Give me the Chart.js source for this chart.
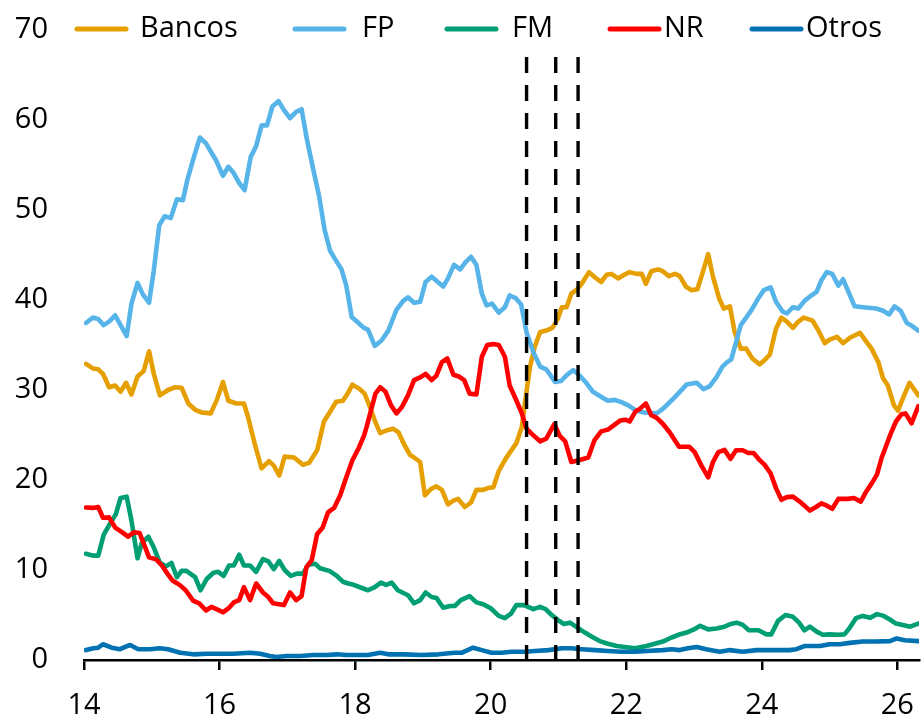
<!DOCTYPE html>
<html>
<head>
<meta charset="utf-8">
<script src="https://cdn.jsdelivr.net/npm/chart.js@4.4.1/dist/chart.umd.min.js"></script>
<style>
html, body { margin: 0; padding: 0; background: #fff; }
canvas { display: block; }
</style>
</head>
<body>
<canvas id="chart" width="924" height="719"></canvas>
<script>
// series names / colours, legend order
const seriesNames = ["Bancos", "FP", "FM", "NR", "Otros"];
const seriesColors = ["#E69F00", "#56B4E9", "#009E73", "#FF0000", "#0072B2"];

// [year, %]
const bancos = [[14.03,32.9],[14.13,32.4],[14.21,32.3],[14.28,31.8],[14.37,30.3],[14.46,30.5],[14.54,29.8],[14.62,30.8],[14.70,29.5],[14.79,31.5],[14.88,32.1],[14.96,34.3],[15.03,31.8],[15.12,29.4],[15.24,30.0],[15.34,30.3],[15.44,30.25],[15.54,28.5],[15.64,27.8],[15.74,27.5],[15.87,27.4],[15.96,28.9],[16.05,30.9],[16.13,28.8],[16.25,28.5],[16.36,28.5],[16.42,27.0],[16.52,24.0],[16.62,21.3],[16.73,22.1],[16.80,21.6],[16.88,20.5],[16.96,22.6],[17.10,22.5],[17.23,21.7],[17.32,21.9],[17.44,23.3],[17.54,26.5],[17.64,27.7],[17.72,28.7],[17.82,28.8],[17.89,29.6],[17.96,30.6],[18.07,30.1],[18.14,29.6],[18.22,28.1],[18.29,26.6],[18.37,25.2],[18.46,25.5],[18.56,25.7],[18.64,25.3],[18.72,24.0],[18.81,22.8],[18.87,22.5],[18.96,22.0],[19.03,18.3],[19.12,19.0],[19.20,19.3],[19.28,18.9],[19.37,17.3],[19.45,17.7],[19.52,17.9],[19.62,17.0],[19.71,17.5],[19.79,18.9],[19.89,18.9],[19.96,19.1],[20.04,19.2],[20.12,21.0],[20.22,22.35],[20.31,23.35],[20.38,24.1],[20.46,25.9],[20.51,28.8],[20.58,32.55],[20.65,34.8],[20.73,36.45],[20.82,36.6],[20.91,36.9],[20.99,37.9],[21.05,39.2],[21.12,39.2],[21.19,40.7],[21.28,41.2],[21.36,42.0],[21.45,43.1],[21.54,42.5],[21.63,42.0],[21.71,42.8],[21.78,42.9],[21.88,42.4],[21.97,42.8],[22.05,43.1],[22.15,42.9],[22.23,42.9],[22.29,41.8],[22.37,43.2],[22.47,43.4],[22.54,43.2],[22.63,42.65],[22.72,42.9],[22.79,42.65],[22.88,41.5],[22.96,41.1],[23.05,41.2],[23.13,43.1],[23.21,45.1],[23.28,42.6],[23.37,40.2],[23.44,39.05],[23.53,39.3],[23.60,36.45],[23.69,34.6],[23.77,34.6],[23.86,33.5],[23.97,32.85],[24.04,33.3],[24.12,33.95],[24.21,36.8],[24.29,38.05],[24.37,37.6],[24.46,36.9],[24.54,37.6],[24.62,38.05],[24.75,37.7],[24.83,36.7],[24.93,35.2],[25.00,35.6],[25.11,35.9],[25.20,35.2],[25.30,35.8],[25.45,36.35],[25.53,35.5],[25.62,34.6],[25.72,33.1],[25.79,31.3],[25.86,30.5],[25.95,28.3],[26.01,27.7],[26.09,29.2],[26.18,30.8],[26.31,29.4]];

const fp = [[14.03,37.45],[14.13,38.05],[14.21,37.9],[14.29,37.2],[14.37,37.6],[14.46,38.3],[14.54,37.2],[14.63,36.0],[14.70,39.6],[14.79,41.9],[14.87,40.6],[14.96,39.7],[15.03,43.3],[15.11,48.3],[15.19,49.3],[15.28,49.1],[15.37,51.2],[15.46,51.1],[15.52,53.2],[15.61,55.6],[15.71,58.05],[15.80,57.4],[15.87,56.5],[15.95,55.5],[16.05,53.8],[16.13,54.8],[16.20,54.2],[16.29,53.0],[16.37,52.2],[16.46,55.9],[16.54,57.1],[16.62,59.4],[16.70,59.4],[16.78,61.5],[16.87,62.1],[16.95,61.1],[17.04,60.2],[17.13,60.9],[17.21,61.2],[17.29,57.8],[17.38,54.6],[17.47,51.5],[17.55,47.8],[17.63,45.5],[17.70,44.6],[17.80,43.4],[17.87,41.6],[17.95,38.1],[18.05,37.45],[18.13,36.9],[18.19,36.7],[18.29,34.9],[18.39,35.5],[18.49,36.6],[18.61,38.9],[18.71,39.9],[18.78,40.3],[18.87,39.7],[18.96,39.8],[19.04,42.0],[19.13,42.6],[19.22,42.0],[19.30,41.5],[19.37,42.4],[19.46,43.9],[19.55,43.4],[19.63,44.2],[19.71,44.8],[19.79,43.9],[19.87,40.7],[19.94,39.4],[20.02,39.6],[20.12,38.6],[20.21,39.2],[20.28,40.5],[20.37,40.2],[20.45,39.5],[20.53,36.4],[20.63,34.2],[20.73,32.6],[20.82,32.3],[20.95,30.9],[21.04,31.0],[21.13,31.7],[21.22,32.2],[21.30,31.7],[21.41,30.8],[21.51,29.8],[21.64,29.2],[21.73,28.8],[21.83,28.9],[21.93,28.65],[22.03,28.3],[22.15,27.7],[22.27,27.5],[22.45,27.4],[22.54,27.9],[22.69,29.0],[22.79,29.8],[22.89,30.6],[23.04,30.8],[23.14,30.1],[23.23,30.4],[23.33,31.4],[23.42,32.6],[23.49,33.1],[23.55,33.4],[23.62,35.3],[23.69,37.2],[23.77,38.05],[23.85,38.9],[23.95,40.2],[24.03,41.1],[24.13,41.4],[24.21,39.8],[24.31,38.7],[24.37,38.5],[24.46,39.2],[24.54,39.05],[24.63,39.9],[24.73,40.5],[24.81,40.9],[24.88,42.2],[24.96,43.1],[25.04,42.9],[25.13,41.6],[25.20,42.3],[25.29,40.7],[25.37,39.3],[25.49,39.2],[25.69,39.05],[25.79,38.8],[25.88,38.4],[25.96,39.3],[26.05,38.8],[26.14,37.45],[26.22,37.1],[26.31,36.6]];

const fm = [[14.03,11.8],[14.13,11.6],[14.21,11.6],[14.29,13.9],[14.38,15.1],[14.47,16.2],[14.54,18.0],[14.63,18.15],[14.70,15.5],[14.79,11.3],[14.85,12.95],[14.95,13.7],[15.03,12.5],[15.12,10.8],[15.21,10.4],[15.29,10.8],[15.37,9.2],[15.44,9.9],[15.51,9.9],[15.64,9.2],[15.72,7.75],[15.81,9.0],[15.91,9.7],[15.98,9.8],[16.06,9.35],[16.14,10.5],[16.21,10.5],[16.29,11.7],[16.36,10.5],[16.45,10.5],[16.54,9.8],[16.64,11.2],[16.72,10.95],[16.80,10.1],[16.88,11.0],[16.96,10.0],[17.05,9.35],[17.14,9.6],[17.23,9.6],[17.31,10.6],[17.41,10.7],[17.48,10.2],[17.62,9.9],[17.73,9.35],[17.82,8.7],[17.90,8.5],[17.98,8.35],[18.10,8.0],[18.19,7.75],[18.29,8.1],[18.38,8.6],[18.46,8.35],[18.54,8.6],[18.63,7.75],[18.78,7.2],[18.87,6.3],[18.96,6.65],[19.04,7.5],[19.13,7.0],[19.20,6.9],[19.30,5.8],[19.40,6.0],[19.47,6.0],[19.56,6.65],[19.69,7.1],[19.79,6.4],[19.89,6.2],[20.00,5.75],[20.12,4.9],[20.21,4.65],[20.30,5.15],[20.38,6.1],[20.49,6.1],[20.63,5.65],[20.73,5.9],[20.81,5.65],[20.90,5.0],[21.00,4.4],[21.08,4.0],[21.17,4.15],[21.28,3.6],[21.39,3.05],[21.50,2.55],[21.61,2.1],[21.73,1.8],[21.86,1.55],[21.98,1.45],[22.13,1.3],[22.30,1.55],[22.42,1.8],[22.54,2.05],[22.67,2.5],[22.77,2.8],[22.89,3.05],[23.00,3.4],[23.09,3.8],[23.21,3.4],[23.33,3.5],[23.45,3.7],[23.54,4.0],[23.63,4.15],[23.72,3.9],[23.81,3.3],[23.95,3.3],[24.07,2.85],[24.14,2.85],[24.24,4.35],[24.35,5.0],[24.46,4.8],[24.55,4.15],[24.63,3.3],[24.71,3.7],[24.81,3.15],[24.90,2.8],[25.00,2.85],[25.13,2.8],[25.22,2.85],[25.30,3.6],[25.39,4.65],[25.49,4.9],[25.60,4.7],[25.70,5.1],[25.80,4.9],[25.89,4.5],[25.98,4.05],[26.08,3.9],[26.19,3.7],[26.31,4.05]];

const nr = [[14.03,16.95],[14.13,16.9],[14.21,17.0],[14.28,15.8],[14.37,15.85],[14.46,14.7],[14.56,14.2],[14.65,13.7],[14.74,14.2],[14.82,14.1],[14.88,12.95],[14.96,11.4],[15.06,11.2],[15.15,10.5],[15.23,9.6],[15.31,8.8],[15.41,8.35],[15.50,7.75],[15.61,6.6],[15.70,6.3],[15.80,5.5],[15.88,5.9],[15.97,5.6],[16.05,5.3],[16.14,5.8],[16.21,6.4],[16.29,6.65],[16.36,8.1],[16.45,6.65],[16.54,8.5],[16.64,7.5],[16.72,7.0],[16.79,6.3],[16.88,6.2],[16.95,6.1],[17.04,7.5],[17.13,6.65],[17.21,7.1],[17.28,10.3],[17.36,11.1],[17.44,14.0],[17.52,14.7],[17.60,16.4],[17.69,16.9],[17.78,18.3],[17.87,20.3],[17.96,22.2],[18.05,23.5],[18.13,24.9],[18.17,25.9],[18.24,27.9],[18.30,29.6],[18.37,30.3],[18.45,29.8],[18.53,28.3],[18.61,27.4],[18.69,28.1],[18.78,29.4],[18.87,31.1],[18.96,31.4],[19.04,31.8],[19.13,31.1],[19.20,31.6],[19.28,33.1],[19.36,33.5],[19.45,31.7],[19.53,31.5],[19.61,31.1],[19.69,29.6],[19.79,29.5],[19.87,33.7],[19.95,35.0],[20.04,35.1],[20.12,35.0],[20.21,33.7],[20.28,30.5],[20.37,29.0],[20.46,27.4],[20.53,25.7],[20.61,25.1],[20.73,24.3],[20.82,24.6],[20.94,26.2],[21.02,24.9],[21.10,24.3],[21.19,22.0],[21.30,22.2],[21.44,22.5],[21.53,24.4],[21.63,25.4],[21.73,25.6],[21.82,26.1],[21.91,26.6],[21.99,26.7],[22.05,26.5],[22.14,27.65],[22.20,27.9],[22.29,28.5],[22.37,27.2],[22.45,26.9],[22.54,26.25],[22.64,25.3],[22.78,23.7],[22.93,23.7],[23.01,23.1],[23.11,21.6],[23.21,20.3],[23.28,22.0],[23.36,23.1],[23.45,23.35],[23.54,22.35],[23.62,23.3],[23.72,23.3],[23.80,23.0],[23.88,23.0],[23.97,22.2],[24.04,21.7],[24.13,20.75],[24.21,19.1],[24.29,17.8],[24.37,18.1],[24.46,18.15],[24.56,17.6],[24.63,17.15],[24.71,16.6],[24.80,17.0],[24.88,17.4],[24.96,17.15],[25.04,16.8],[25.13,17.9],[25.27,17.9],[25.36,18.0],[25.46,17.6],[25.54,18.7],[25.62,19.6],[25.70,20.6],[25.77,22.5],[25.83,23.7],[25.90,25.1],[25.98,26.5],[26.06,27.3],[26.12,27.4],[26.21,26.3],[26.31,28.2]];

const otros = [[14.03,1.1],[14.14,1.3],[14.21,1.37],[14.28,1.75],[14.41,1.37],[14.53,1.2],[14.68,1.67],[14.80,1.2],[14.97,1.2],[15.12,1.3],[15.24,1.2],[15.42,0.8],[15.61,0.63],[15.81,0.7],[16.01,0.7],[16.20,0.7],[16.45,0.8],[16.60,0.7],[16.74,0.45],[16.84,0.33],[16.99,0.45],[17.19,0.45],[17.38,0.56],[17.58,0.56],[17.73,0.63],[17.87,0.56],[18.02,0.56],[18.19,0.56],[18.37,0.8],[18.49,0.63],[18.73,0.63],[18.98,0.56],[19.23,0.63],[19.47,0.8],[19.57,0.8],[19.74,1.37],[19.87,1.1],[20.01,0.8],[20.16,0.8],[20.31,0.92],[20.50,0.92],[20.65,1.0],[20.85,1.1],[21.05,1.3],[21.19,1.3],[21.34,1.2],[21.54,1.1],[21.73,1.0],[21.93,0.92],[22.13,0.92],[22.30,1.0],[22.54,1.1],[22.67,1.2],[22.79,1.1],[22.91,1.3],[23.04,1.45],[23.18,1.2],[23.38,0.92],[23.53,1.1],[23.72,0.92],[23.92,1.1],[24.17,1.1],[24.41,1.1],[24.51,1.2],[24.63,1.55],[24.86,1.55],[25.00,1.75],[25.15,1.75],[25.30,1.9],[25.49,2.05],[25.69,2.05],[25.89,2.1],[25.99,2.4],[26.11,2.2],[26.31,2.1]];

// dashed vertical markers
const eventYears = [20.53, 20.96, 21.29];
const eventTop = 67;

const xTicks = [14, 16, 18, 20, 22, 24, 26];
const yTicks = [0, 10, 20, 30, 40, 50, 60, 70];

const allSeries = [bancos, fp, fm, nr, otros];
const FONT = '"Open Sans", "DejaVu Sans", sans-serif';

// legend drawn by hand, it sits on the same line as the "70" label
const legendLineX = [75, 293, 445, 608, 750];
const legendTextX = [140, 362, 512, 664, 806];
const legendY = 29;

const topLegend = {
	id: 'topLegend',
	afterDraw(chart) {
		const ctx = chart.ctx;
		ctx.save();
		ctx.font = '29px ' + FONT;
		ctx.textBaseline = 'middle';
		ctx.lineWidth = 5;
		ctx.lineCap = 'round';
		seriesNames.forEach((name, i) => {
			ctx.strokeStyle = seriesColors[i];
			ctx.beginPath();
			ctx.moveTo(legendLineX[i] + 2, legendY);
			ctx.lineTo(legendLineX[i] + 51, legendY);
			ctx.stroke();
			ctx.fillStyle = '#000';
			ctx.fillText(name, legendTextX[i], legendY);
		});
		ctx.restore();
	}
};

let datasets = allSeries.map((pts, i) => ({
	label: seriesNames[i],
	data: pts.map(p => ({x: p[0], y: p[1]})),
	borderColor: seriesColors[i],
	borderWidth: 4.6,
	borderCapStyle: 'round',
	borderJoinStyle: 'round',
	pointRadius: 0,
	tension: 0,
	fill: false,
	order: 5 - i
}));

eventYears.forEach(yr => {
	datasets.push({
		label: '',
		data: [{x: yr, y: eventTop}, {x: yr, y: 0}],
		borderColor: '#000',
		borderWidth: 3.4,
		borderDash: [16, 12],
		pointRadius: 0,
		fill: false,
		order: 0
	});
});

Chart.defaults.font.family = FONT;
Chart.defaults.color = '#000';

new Chart(document.getElementById('chart'), {
	type: 'line',
	data: { datasets: datasets },
	options: {
		responsive: false,
		animation: false,
		devicePixelRatio: 1,
		layout: { padding: { left: 0, right: 5, top: 30, bottom: 0 } },
		plugins: {
			legend: { display: false },
			tooltip: { enabled: false }
		},
		scales: {
			x: {
				type: 'linear',
				min: 14,
				max: 26.32,
				afterBuildTicks: s => { s.ticks = xTicks.map(v => ({value: v})); },
				// fixed height, and no extra side padding for the labels
				afterFit: s => { s.height = 59; s.paddingLeft = 0; s.paddingRight = 0; },
				grid: { drawOnChartArea: false, drawTicks: true, tickLength: 10, color: '#000', lineWidth: 2.5 },
				border: { display: true, color: '#000', width: 2.5 },
				ticks: { font: { size: 29 }, color: '#000', padding: 18, maxRotation: 0, callback: v => String(v) }
			},
			y: {
				min: 0,
				max: 70,
				afterBuildTicks: s => { s.ticks = yTicks.map(v => ({value: v})); },
				afterFit: s => { s.width = 84; s.paddingTop = 0; s.paddingBottom = 0; },
				grid: { display: false, drawTicks: false },
				border: { display: false },
				ticks: { font: { size: 29 }, color: '#000', padding: 36, callback: v => String(v) }
			}
		}
	},
	plugins: [topLegend]
});
</script>
</body>
</html>
